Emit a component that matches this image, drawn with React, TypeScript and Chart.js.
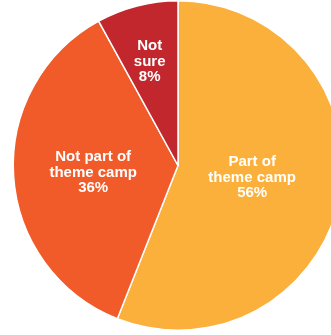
import React, { useEffect, useRef } from "react";
import { Chart, registerables } from "chart.js";

Chart.register(...registerables);

const categories: string[][] = [
  ["Part of", "theme camp"],
  ["Not part of", "theme camp"],
  ["Not", "sure"],
];
const values: number[] = [56, 36, 8];
const colors: string[] = ["#FBB03B", "#F15A29", "#C1272D"];

// label anchor offsets (relative to pie centre, in radius units) for the middle line baseline
const labelAnchors: [number, number][] = [
  [0.45, 0.1],
  [-0.515, 0.069],
  [-0.172, -0.606],
];

const labelPlugin = {
  id: "sliceLabels",
  afterDatasetsDraw(chart: any) {
    const meta = chart.getDatasetMeta(0);
    const ctx = chart.ctx;
    ctx.save();
    ctx.fillStyle = "#ffffff";
    ctx.font = "bold 15px 'Liberation Sans', Arial, sans-serif";
    ctx.textAlign = "center";
    ctx.textBaseline = "alphabetic";
    const lh = 15.5;
    meta.data.forEach((arc: any, i: number) => {
      const r = arc.outerRadius;
      const cx = arc.x + labelAnchors[i][0] * r;
      const cy = arc.y + labelAnchors[i][1] * r;
      const lines = [...categories[i], values[i] + "%"];
      const start = cy - lh;
      lines.forEach((t, k) => ctx.fillText(t, cx, start + k * lh));
    });
    ctx.restore();
  },
};

export default function App() {
  const ref = useRef<HTMLCanvasElement>(null);
  useEffect(() => {
    if (!ref.current) return;
    const chart = new Chart(ref.current, {
      type: "pie",
      data: {
        labels: categories.map((c) => c.join(" ")),
        datasets: [
          {
            data: values,
            backgroundColor: colors,
            borderColor: "#ffffff",
            borderWidth: 1.5,
          },
        ],
      },
      options: {
        responsive: false,
        maintainAspectRatio: false,
        animation: false,
        layout: { padding: 0 },
        plugins: {
          legend: { display: false },
          tooltip: { enabled: false },
        },
      },
      plugins: [labelPlugin],
    });
    return () => chart.destroy();
  }, []);
  return (
    <div style={{ position: "fixed", left: 0, top: 0, width: 331, height: 335, overflow: "hidden", background: "#fff" }}>
      <canvas ref={ref} width={356} height={331} style={{ position: "absolute", left: 0, top: 0 }} />
    </div>
  );
}
